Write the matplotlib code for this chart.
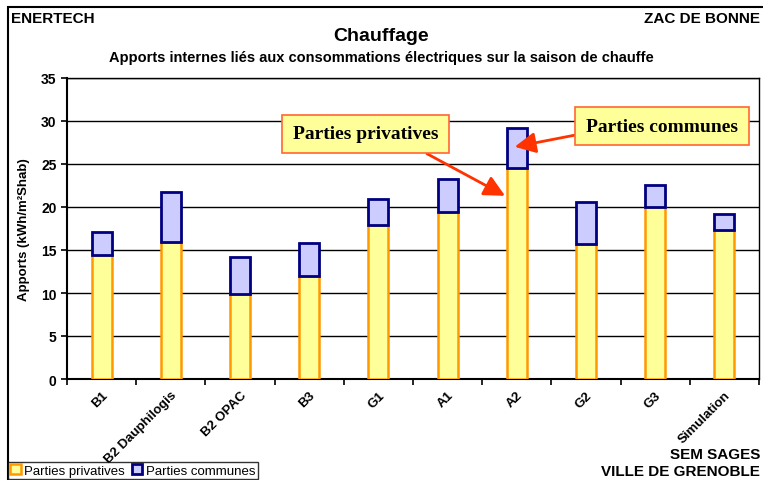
import matplotlib
matplotlib.use("Agg")
import matplotlib.pyplot as plt
from matplotlib.patches import Rectangle
from matplotlib.transforms import ScaledTranslation

plt.rcParams['font.family'] = ['Liberation Sans', 'DejaVu Sans']

sites = ["B1", "B2 Dauphilogis", "B2 OPAC", "B3", "G1", "A1", "A2", "G2", "G3", "Simulation"]
privatives = [14.4, 15.9, 9.9, 12.0, 17.9, 19.4, 24.5, 15.7, 20.0, 17.3]
communes = [2.7, 5.8, 4.3, 3.8, 3.0, 3.8, 4.7, 4.9, 2.6, 1.9]
yticks = [0, 5, 10, 15, 20, 25, 30, 35]

fig = plt.figure(figsize=(7.63, 4.81), dpi=100)
ax = fig.add_axes([67 / 763, 1 - 380 / 481, 692 / 763, 301 / 481])

x = list(range(len(sites)))
ax.bar(x, privatives, width=0.29, color="#FFFF99", edgecolor="#FF9900",
       linewidth=1.8, label="Parties privatives", zorder=3)
ax.bar(x, communes, width=0.29, bottom=privatives, color="#CCCCFF",
       edgecolor="#000080", linewidth=2, label="Parties communes", zorder=3)

ax.set_xlim(-0.5, len(sites) - 0.5)
ax.set_ylim(0, 35)
ax.set_yticks(yticks)
ax.yaxis.grid(True, color="black", linewidth=1)
ax.set_axisbelow(True)
for lab in ax.get_yticklabels():
    lab.set_fontweight("bold")
    lab.set_fontsize(10)

ax.set_xticks([i - 0.5 for i in range(len(sites) + 1)])
ax.set_xticklabels([])
ax.set_xticks(x, minor=True)
ax.set_xticklabels(sites, minor=True, rotation=45, ha="right", va="top",
                   fontsize=9.5, fontweight="bold", rotation_mode="anchor")
shift = ScaledTranslation(-5 / 100, 0, fig.dpi_scale_trans)
for lab in ax.get_xticklabels(minor=True):
    lab.set_transform(lab.get_transform() + shift)
ax.tick_params(axis="x", which="minor", length=0, pad=7)
ax.tick_params(axis="x", which="major", length=4, width=1.2)
ax.tick_params(axis="y", length=4, width=1.2)
for s in ["left", "bottom"]:
    ax.spines[s].set_linewidth(1.5)
ax.spines["right"].set_linewidth(1.0)
ax.spines["top"].set_linewidth(1.0)

ax.set_ylabel("Apports (kWh/m²Shab)", fontsize=9.5, fontweight="bold", labelpad=8)

fig.text(0.5, 1 - 37 / 481, "Chauffage", ha="center", va="center",
         fontsize=14, fontweight="bold")
fig.text(0.5, 1 - 58 / 481,
         "Apports internes liés aux consommations électriques sur la saison de chauffe",
         ha="center", va="center", fontsize=10.5, fontweight="bold")
fig.text(11 / 763, 1 - 19 / 481, "ENERTECH", ha="left", va="center",
         fontsize=11, fontweight="bold")
fig.text(760 / 763, 1 - 19 / 481, "ZAC DE BONNE", ha="right", va="center",
         fontsize=11, fontweight="bold")
fig.text(760 / 763, 1 - 455 / 481, "SEM SAGES", ha="right", va="center",
         fontsize=11, fontweight="bold")
fig.text(760 / 763, 1 - 472 / 481, "VILLE DE GRENOBLE", ha="right", va="center",
         fontsize=11, fontweight="bold")

# figure frame
fig.patches.append(Rectangle((8 / 763, -0.05), 2, 1 - 8 / 481 + 0.05,
                             transform=fig.transFigure, fill=False,
                             edgecolor="black", linewidth=1.5))

box = dict(boxstyle="square,pad=0.55", fc="#FFFF99", ec="#FF6633", lw=1.2)
ax.annotate("Parties privatives", xy=(5.83, 21.3), xytext=(3.81, 28.5),
            fontsize=14, fontweight="bold", family="Liberation Serif",
            ha="center", va="center", bbox=box, zorder=5,
            arrowprops=dict(arrowstyle="-|>,head_length=0.9,head_width=0.45",
                            color="#FF3300", lw=2, shrinkA=0, shrinkB=0,
                            relpos=(0.78, 0)))
ax.annotate("Parties communes", xy=(5.97, 27.0), xytext=(8.1, 29.4),
            fontsize=14, fontweight="bold", family="Liberation Serif",
            ha="center", va="center", bbox=box, zorder=5,
            arrowprops=dict(arrowstyle="-|>,head_length=0.9,head_width=0.45",
                            color="#FF3300", lw=2, shrinkA=0, shrinkB=0,
                            relpos=(0, 0.1)))

leg = fig.legend(loc="upper left", bbox_to_anchor=(8 / 763, 1 - 463 / 481),
                 ncol=2, fontsize=9.5, frameon=True, fancybox=False,
                 edgecolor="black", handlelength=0.8, handleheight=0.8,
                 handletextpad=0.3, columnspacing=0.5, borderpad=0.15,
                 borderaxespad=0)
leg.get_frame().set_linewidth(1)

fig.savefig("out.png", dpi=100)
